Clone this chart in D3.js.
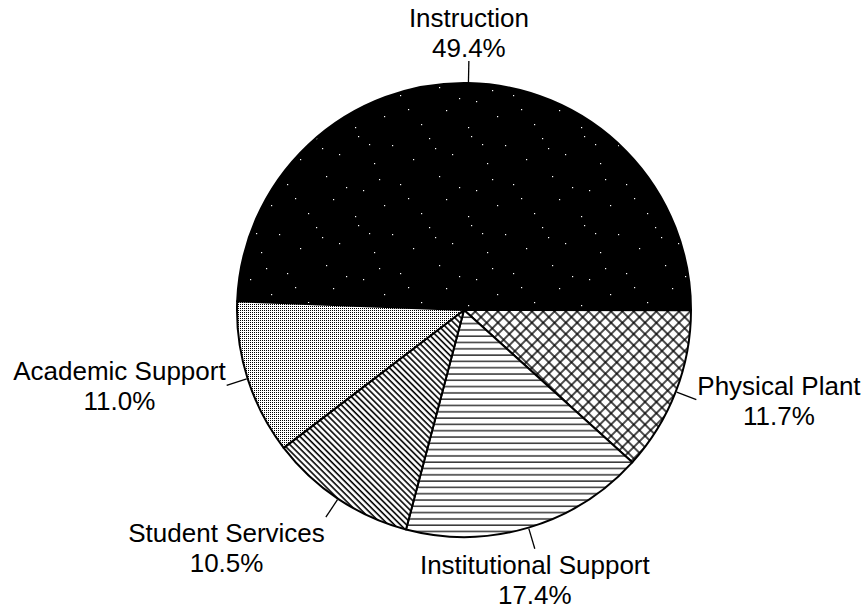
<!DOCTYPE html>
<html>
<head>
<meta charset="utf-8">
<script src="https://cdn.jsdelivr.net/npm/d3@7"></script>
<style>
  html, body { margin: 0; padding: 0; background: #fff; }
  svg text { font-family: "Liberation Sans", Arial, Helvetica, sans-serif; font-size: 26px; fill: #000; }
</style>
</head>
<body>
<svg id="chart" width="864" height="609"></svg>
<script>
// ---- data ----
const categories = ["Instruction", "Physical Plant", "Institutional Support", "Student Services", "Academic Support"];
const values = [49.4, 11.7, 17.4, 10.5, 11.0];
const valueLabels = ["49.4%", "11.7%", "17.4%", "10.5%", "11.0%"];
const fills = ["url(#speckle)", "url(#cross)", "url(#horiz)", "url(#diag)", "url(#stipple)"];

// ---- layout ----
const W = 864, H = 609;
const cx = 464, cy = 310, R = 227;
const startDeg = -87.8;

const svg = d3.select("#chart");
const defs = svg.append("defs");

// speckled black (sparse, irregular white specks)
const sp = defs.append("pattern").attr("id", "speckle").attr("patternUnits", "userSpaceOnUse")
  .attr("width", 113).attr("height", 89);
sp.append("rect").attr("width", 113).attr("height", 89).attr("fill", "#000");
const specks = [[7,4],[41,13],[78,6],[101,22],[23,31],[62,27],[88,44],[12,58],[49,52],[95,67],
                [33,73],[70,81],[4,84],[57,66],[84,16],[28,47],[108,55],[18,12]];
sp.selectAll("rect.s").data(specks).join("rect").attr("class", "s")
  .attr("x", d => d[0]).attr("y", d => d[1]).attr("width", 1.2).attr("height", 1.2).attr("fill", "#fff");

// stipple
const st = defs.append("pattern").attr("id", "stipple").attr("patternUnits", "userSpaceOnUse")
  .attr("width", 2).attr("height", 2);
st.append("rect").attr("width", 2).attr("height", 2).attr("fill", "#fff");
st.append("rect").attr("width", 1).attr("height", 1).attr("fill", "#000");

// backslash diagonal
const dg = defs.append("pattern").attr("id", "diag").attr("patternUnits", "userSpaceOnUse")
  .attr("width", 4.3).attr("height", 10).attr("patternTransform", "rotate(-45)");
dg.append("rect").attr("width", 4.3).attr("height", 10).attr("fill", "#fff");
dg.append("line").attr("x1", 1).attr("x2", 1).attr("y1", 0).attr("y2", 10)
  .attr("stroke", "#000").attr("stroke-width", 1.6);

// horizontal lines
const hz = defs.append("pattern").attr("id", "horiz").attr("patternUnits", "userSpaceOnUse")
  .attr("width", 10).attr("height", 6.3);
hz.append("rect").attr("width", 10).attr("height", 6.3).attr("fill", "#fff");
hz.append("line").attr("x1", 0).attr("x2", 10).attr("y1", 1).attr("y2", 1)
  .attr("stroke", "#000").attr("stroke-width", 1.2);

// cross hatch
const cr = defs.append("pattern").attr("id", "cross").attr("patternUnits", "userSpaceOnUse")
  .attr("width", 8).attr("height", 8).attr("patternTransform", "rotate(45)");
cr.append("rect").attr("width", 8).attr("height", 8).attr("fill", "#fff");
cr.append("line").attr("x1", 0).attr("x2", 8).attr("y1", 1).attr("y2", 1)
  .attr("stroke", "#000").attr("stroke-width", 1.4);
cr.append("line").attr("x1", 1).attr("x2", 1).attr("y1", 0).attr("y2", 8)
  .attr("stroke", "#000").attr("stroke-width", 1.4);

const data = categories.map((c, i) => ({ cat: c, value: values[i], label: valueLabels[i], fill: fills[i] }));

const pie = d3.pie().value(d => d.value).sort(null)
  .startAngle(startDeg * Math.PI / 180)
  .endAngle(startDeg * Math.PI / 180 + 2 * Math.PI);
const arcs = pie(data);
const arc = d3.arc().innerRadius(0).outerRadius(R);

const g = svg.append("g").attr("transform", `translate(${cx},${cy})`);
g.selectAll("path.slice").data(arcs).join("path").attr("class", "slice")
  .attr("d", arc).attr("fill", d => d.data.fill)
  .attr("stroke", "#000").attr("stroke-width", 2).attr("stroke-linejoin", "round");

// leaders + labels
const lineH = 30, cap = 19;
arcs.forEach(a => {
  const mid = (a.startAngle + a.endAngle) / 2;
  const s = Math.sin(mid), c = -Math.cos(mid);
  const x1 = s * (R + 1), y1 = c * (R + 1);
  const x2 = s * (R + 22), y2 = c * (R + 22);
  g.append("line").attr("x1", x1).attr("y1", y1).attr("x2", x2).attr("y2", y2)
    .attr("stroke", "#000").attr("stroke-width", 1.3);

  const t = g.append("text").attr("text-anchor", "middle");
  const l1 = t.append("tspan").text(a.data.cat);
  const l2 = t.append("tspan").text(a.data.label);
  const w = Math.max(l1.node().getComputedTextLength(), l2.node().getComputedTextLength());

  let bx;
  if (Math.abs(s) < 0.35) bx = x2;
  else if (s > 0) bx = x2 + 1 + w / 2;
  else bx = x2 - 1 - w / 2;

  let b1;
  const cosUp = Math.cos(mid);
  if (cosUp > 0.8) b1 = y2 - 4 - lineH;      // above
  else if (cosUp < -0.8) b1 = y2 + 6 + cap;   // below
  else b1 = y2 - 5;                           // centered

  l1.attr("x", bx).attr("y", b1);
  l2.attr("x", bx).attr("y", b1 + lineH);
});
</script>
</body>
</html>
